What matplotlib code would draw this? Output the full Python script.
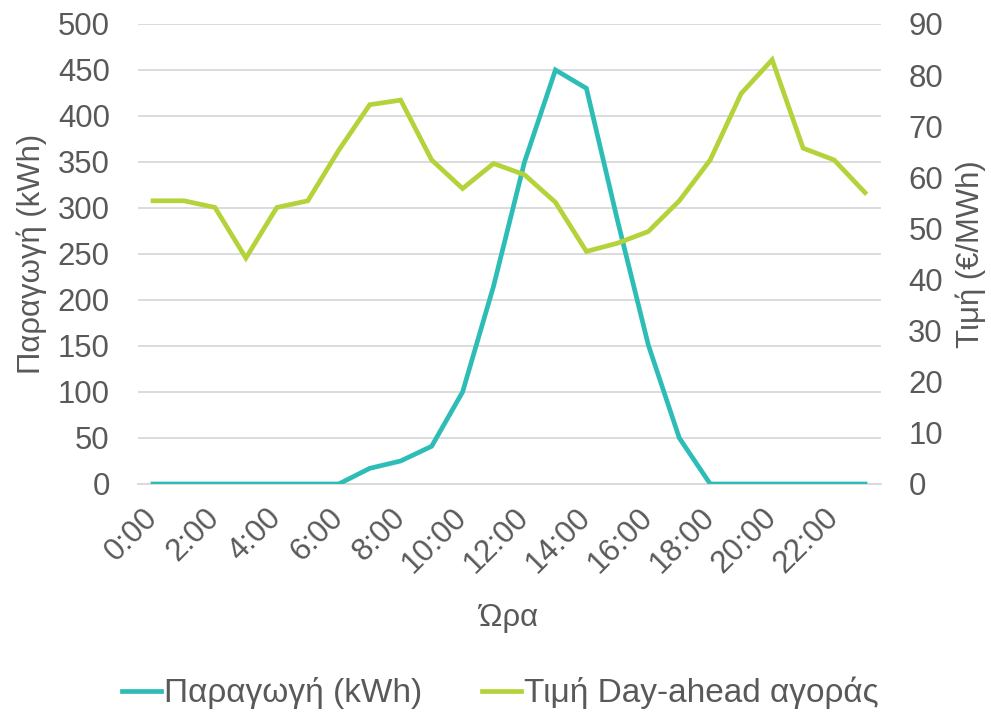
import matplotlib
matplotlib.use("Agg")
import matplotlib.pyplot as plt
from matplotlib.lines import Line2D

hours = [f"{h}:00" for h in range(24)]
production = [0, 0, 0, 0, 0, 0, 0, 17, 25, 41, 100, 215, 350, 450, 430, 287, 151, 50, 0, 0, 0, 0, 0, 0]
price = [55.4, 55.4, 54.1, 44.2, 54.1, 55.4, 65.3, 74.2, 75.1, 63.4, 57.8, 62.7, 60.5, 55.1,
         45.5, 47.1, 49.4, 55.4, 63.4, 76.4, 83.0, 65.7, 63.4, 57.0]
left_ticks = [0, 50, 100, 150, 200, 250, 300, 350, 400, 450, 500]
right_ticks = [0, 10, 20, 30, 40, 50, 60, 70, 80, 90]

label_prod = "Παραγωγή (kWh)"
label_price = "Τιμή Day-ahead αγοράς"
ylabel_left = "Παραγωγή (kWh)"
ylabel_right = "Τιμή (€/MWh)"
xlabel = "Ώρα"

plt.rcParams['font.family'] = ['Liberation Sans', 'DejaVu Sans']
gray = "#595959"
teal = "#2EBDB6"
green = "#B4D33A"
fs = 22.4
lw = 3.4

fig = plt.figure(figsize=(9.91, 7.13), dpi=100)
ax = fig.add_axes([0.1388, 0.3212, 0.7497, 0.6452])
ax2 = ax.twinx()

x = list(range(len(hours)))
ax.plot(x, production, color=teal, lw=lw, solid_joinstyle='miter', zorder=3)
ax2.plot(x, price, color=green, lw=lw, solid_joinstyle='miter', zorder=3)

ax.set_xlim(-0.5, len(hours) - 0.5)
ax.set_ylim(0, 500)
ax2.set_ylim(0, 90)
ax.set_yticks(left_ticks)
ax2.set_yticks(right_ticks)
ax.set_xticks(x[::2])
ax.set_xticklabels(hours[::2], rotation=45, ha='right', va='center', rotation_mode='anchor')

ax.grid(axis='y', color='#D9D9D9', lw=1.3)
ax.set_axisbelow(True)
for a in (ax, ax2):
    for s in a.spines.values():
        s.set_visible(False)
    a.tick_params(length=0, colors=gray, labelsize=fs)
ax.spines['bottom'].set_visible(True)
ax.spines['bottom'].set_color('#D9D9D9')
ax.spines['bottom'].set_linewidth(1.3)
ax.tick_params(axis='y', pad=20)
ax2.tick_params(axis='y', pad=20)
ax.tick_params(axis='x', pad=21)

ax.set_ylabel(ylabel_left, color=gray, fontsize=fs, labelpad=8)
ax2.set_ylabel(ylabel_right, color=gray, fontsize=fs, labelpad=9)
ax.set_xlabel(xlabel, color=gray, fontsize=fs, labelpad=17)

handles = [Line2D([], [], color=teal, lw=lw), Line2D([], [], color=green, lw=lw)]
fig.legend(handles, [label_prod, label_price], loc='center', bbox_to_anchor=(0.505, 0.028),
           ncol=2, frameon=False, fontsize=24, labelcolor=gray, handlelength=1.15,
           handletextpad=0.1, columnspacing=1.8)

fig.savefig("out.png", dpi=100)
